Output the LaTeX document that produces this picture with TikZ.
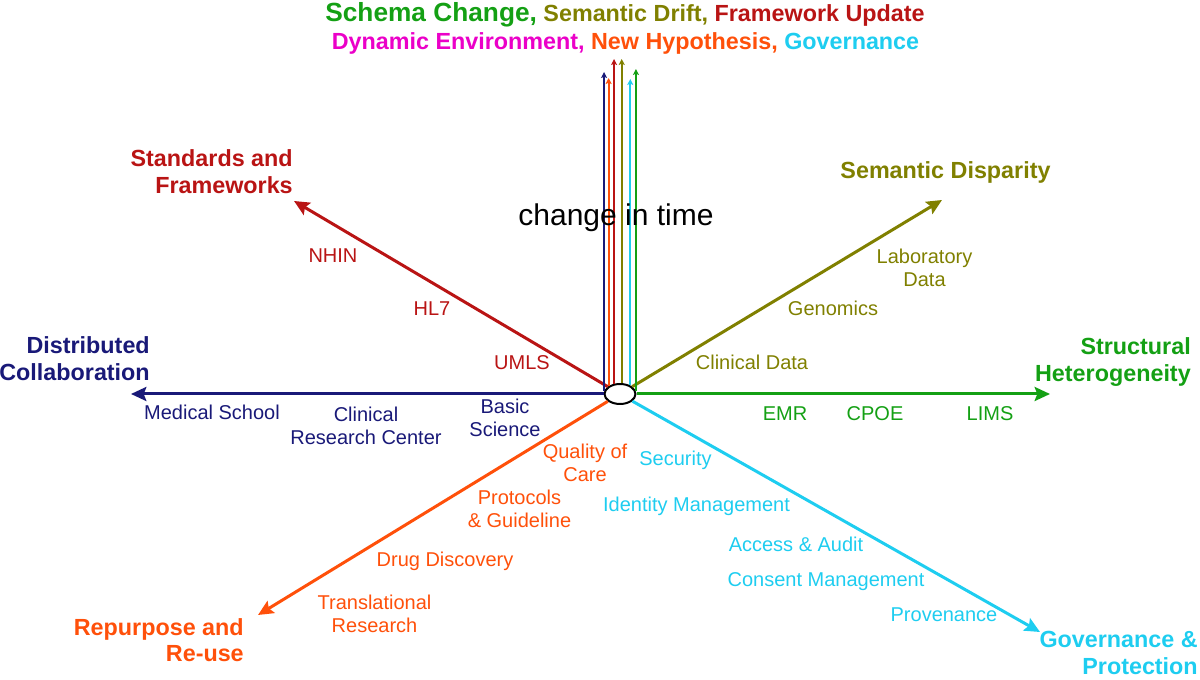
\documentclass[tikz,border=0pt]{standalone}
\usepackage{fontspec}
\setmainfont{Liberation Sans}
\usetikzlibrary{arrows.meta,shapes.geometric}
\definecolor{cnavy}{RGB}{25,25,120}
\definecolor{cred}{RGB}{185,20,20}
\definecolor{colive}{RGB}{128,128,0}
\definecolor{cgreen}{RGB}{20,160,20}
\definecolor{corange}{RGB}{255,80,10}
\definecolor{ccyan}{RGB}{30,205,240}
\definecolor{cmagenta}{RGB}{235,0,200}
\begin{document}
\begin{tikzpicture}[x=0.75pt,y=-0.75pt,
  axis/.style={line width=2.25pt,-{Stealth[length=11.5pt,width=10.5pt,inset=2pt]}},
  tline/.style={line width=1.4pt,-{Stealth[length=4.5pt,width=4.5pt,inset=1pt]}},
  big/.style={font=\fontsize{17.5}{20.25}\selectfont\bfseries, inner sep=0pt},
  small/.style={font=\fontsize{15}{17.25}\selectfont, inner sep=0pt},
  ttl/.style={font=\fontsize{17.5}{20}\selectfont\bfseries, inner sep=0pt, anchor=base},
]
\useasboundingbox (0,0) rectangle (1200,680);

% centre
\node[ellipse, draw, line width=1.5pt, minimum width=23.25pt, minimum height=15pt, inner sep=0pt] (c) at (620,394) {};

% tips
\coordinate (dcTip) at (131,394);
\coordinate (shTip) at (1050,394);
\coordinate (sfTip) at (294,201);
\coordinate (sdTip) at (942,200);
\coordinate (rrTip) at (258,615);
\coordinate (gpTip) at (1040,632);
\coordinate (vBlue) at (0,72);
\coordinate (vOrange) at (0,78);
\coordinate (vRed) at (0,59);
\coordinate (vOlive) at (0,59);
\coordinate (vCyan) at (0,79);
\coordinate (vGreen) at (0,69);

% main axes
\draw[axis, cnavy] (c.west) -- (dcTip);
\draw[axis, cgreen] (c.east) -- (shTip);
\draw[axis, cred] (c.149) -- (sfTip);
\draw[axis, colive] (c.31) -- (sdTip);
\draw[axis, corange] (c.211) -- (rrTip);
\draw[axis, ccyan] (c.330) -- (gpTip);

% time lines
\draw[tline, cnavy] (c.170) -- (c.170 |- vBlue);
\draw[tline, corange] (c.145) -- (c.145 |- vOrange);
\draw[tline, cred] (c.120) -- (c.120 |- vRed);
\draw[tline, colive] (c.81) -- (c.81 |- vOlive);
\draw[tline, ccyan] (c.40) -- (c.40 |- vCyan);
\draw[tline, cgreen] (c.10) -- (c.10 |- vGreen);

% title
\node[ttl] (title1) at (625,22) {\textcolor{cgreen}{\fontsize{19.7}{22}\selectfont Schema Change,} \textcolor{colive}{Semantic Drift,} \textcolor{cred}{Framework Update}};
\node[ttl] (title2) at (625.5,50) {\textcolor{cmagenta}{Dynamic Environment,} \textcolor{corange}{New Hypothesis,} \textcolor{ccyan}{Governance}};

\node[font=\fontsize{22.5}{26}\selectfont, inner sep=0pt, anchor=base] (time) at (616,226) {change in time};

% axis labels
\node[big, text=cred, align=right, anchor=base east] (sfL) at (293,194) {Standards and\\Frameworks};
\node[big, text=colive, anchor=base] (sdL) at (945.5,179) {Semantic Disparity};
\node[big, text=cnavy, align=right, anchor=base east] (dcL) at (150,381) {Distributed\\Collaboration};
\node[big, text=cgreen, align=right, anchor=base east] (shL) at (1191,382) {Structural\\Heterogeneity};
\node[big, text=corange, align=right, anchor=base east] (rrL) at (244,662) {Repurpose and\\Re-use};
\node[big, text=ccyan, align=right, anchor=base east] (gpL) at (1198,674) {Governance \&\\Protection};

% small labels: standards
\node[small, text=cred, anchor=base] (nhin) at (333,263) {NHIN};
\node[small, text=cred, anchor=base] (hl7) at (432,316) {HL7};
\node[small, text=cred, anchor=base] (umls) at (522,370) {UMLS};
% semantic
\node[small, text=colive, anchor=base, align=center] (lab) at (924.5,287) {Laboratory\\Data};
\node[small, text=colive, anchor=base] (gen) at (833,316) {Genomics};
\node[small, text=colive, anchor=base] (cld) at (752,370) {Clinical Data};
% distributed
\node[small, text=cnavy, anchor=base] (med) at (212,420) {Medical School};
\node[small, text=cnavy, anchor=base, align=center] (crc) at (366,445) {Clinical\\Research Center};
\node[small, text=cnavy, anchor=base, align=center] (bas) at (505,437) {Basic\\Science};
% structural
\node[small, text=cgreen, anchor=base] (emr) at (785,421) {EMR};
\node[small, text=cgreen, anchor=base] (cpoe) at (875,421) {CPOE};
\node[small, text=cgreen, anchor=base] (lims) at (990,421) {LIMS};
% repurpose
\node[small, text=corange, anchor=base, align=center] (qoc) at (585,482) {Quality of\\Care};
\node[small, text=corange, anchor=base, align=center] (pro) at (519.5,528) {Protocols\\\& Guideline};
\node[small, text=corange, anchor=base] (drug) at (445,567) {Drug Discovery};
\node[small, text=corange, anchor=base, align=center] (tra) at (374.5,633) {Translational\\Research};
% governance
\node[small, text=ccyan, anchor=base] (sec) at (675.5,466) {Security};
\node[small, text=ccyan, anchor=base] (idm) at (696.5,512) {Identity Management};
\node[small, text=ccyan, anchor=base] (acc) at (796,552) {Access \& Audit};
\node[small, text=ccyan, anchor=base] (con) at (826,587) {Consent Management};
\node[small, text=ccyan, anchor=base] (prov) at (944,622) {Provenance};
\end{tikzpicture}
\end{document}
